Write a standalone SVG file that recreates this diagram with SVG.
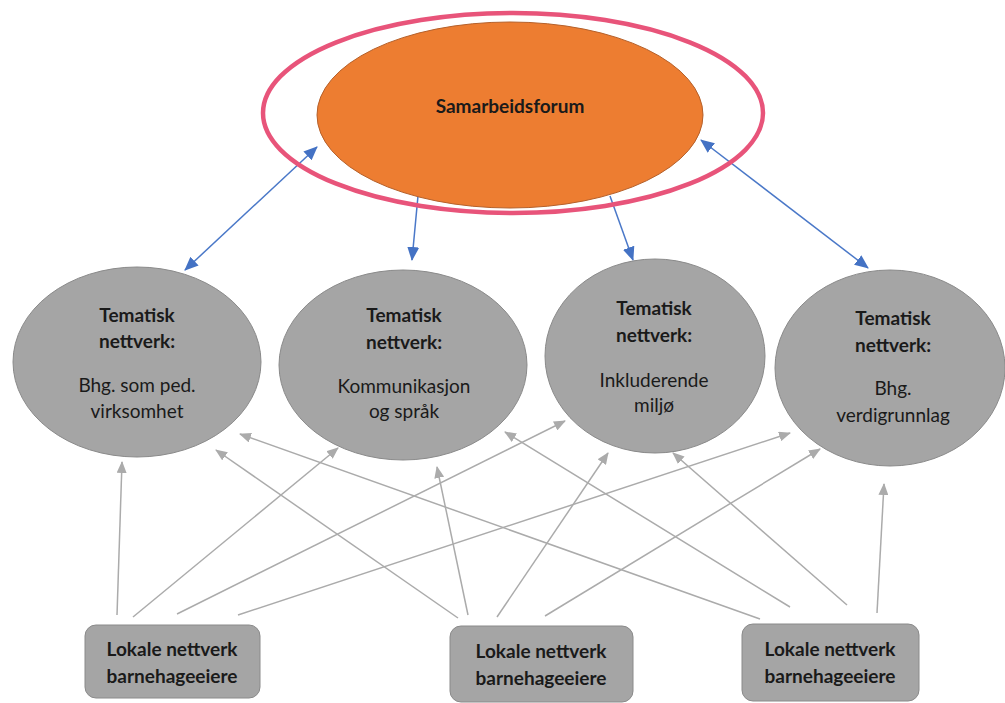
<svg xmlns="http://www.w3.org/2000/svg" width="1005" height="703" viewBox="0 0 1005 703">
<style>
  .t { font-family: Lato, "Open Sans", "Liberation Sans", sans-serif; font-size: 19px; fill: #1a1a1a; text-anchor: middle; }
  .b { font-weight: bold; }
  .gl { stroke: #ABABAB; stroke-width: 1.5; fill: none; marker-end: url(#ga); }
  .bl { stroke: #4A78C8; stroke-width: 1.5; fill: none; }
  .node { fill: #A5A5A5; stroke: #8A8A8A; stroke-width: 1; }
</style>
<defs>
  <marker id="ga" markerUnits="userSpaceOnUse" markerWidth="12" markerHeight="10" refX="11" refY="5" orient="auto">
    <path d="M0,0 L12,5 L0,10 z" fill="#ABABAB"/>
  </marker>
  <marker id="ba" markerUnits="userSpaceOnUse" markerWidth="14" markerHeight="12" refX="13" refY="6" orient="auto-start-reverse">
    <path d="M0,0 L14,6 L0,12 z" fill="#4472C4"/>
  </marker>
</defs>
<rect width="1005" height="703" fill="#FFFFFF"/>
<g id="connectors">
  <line class="gl" x1="117" y1="615" x2="122" y2="462"/>
  <line class="gl" x1="133" y1="617" x2="338" y2="448"/>
  <line class="gl" x1="177" y1="614" x2="565" y2="421"/>
  <line class="gl" x1="238" y1="615" x2="790" y2="433"/>
  <line class="gl" x1="458" y1="618" x2="216" y2="450"/>
  <line class="gl" x1="468" y1="615" x2="437" y2="467"/>
  <line class="gl" x1="497" y1="617" x2="608" y2="453"/>
  <line class="gl" x1="545" y1="616" x2="820" y2="449"/>
  <line class="gl" x1="760" y1="619" x2="240" y2="434"/>
  <line class="gl" x1="790" y1="607" x2="505" y2="432"/>
  <line class="gl" x1="847" y1="605" x2="673" y2="453"/>
  <line class="gl" x1="877" y1="613" x2="884" y2="484"/>
  <line class="bl" x1="185" y1="270" x2="317" y2="147" marker-start="url(#ba)" marker-end="url(#ba)"/>
  <line class="bl" x1="418" y1="196" x2="412" y2="260" marker-end="url(#ba)"/>
  <line class="bl" x1="610" y1="196" x2="633" y2="260" marker-end="url(#ba)"/>
  <line class="bl" x1="701" y1="140" x2="868" y2="268" marker-start="url(#ba)" marker-end="url(#ba)"/>
</g>
<g id="samarbeidsforum">
  <ellipse cx="510" cy="115" rx="193" ry="93" fill="#ED7D31" stroke="#B5602A" stroke-width="1"/>
  <ellipse cx="513" cy="113" rx="250" ry="100" fill="none" stroke="#E8547A" stroke-width="4.5"/>
  <text class="t b" x="510" y="113">Samarbeidsforum</text>
</g>
<g id="tema1">
  <ellipse class="node" cx="137" cy="362" rx="124" ry="95"/>
  <text class="t b" x="137" y="322">Tematisk</text>
  <text class="t b" x="137" y="348">nettverk:</text>
  <text class="t" x="137" y="392">Bhg. som ped.</text>
  <text class="t" x="137" y="418">virksomhet</text>
</g>
<g id="tema2">
  <ellipse class="node" cx="403" cy="365" rx="124" ry="95"/>
  <text class="t b" x="404" y="322">Tematisk</text>
  <text class="t b" x="404" y="349">nettverk:</text>
  <text class="t" x="404" y="393">Kommunikasjon</text>
  <text class="t" x="404" y="418">og språk</text>
</g>
<g id="tema3">
  <ellipse class="node" cx="655" cy="356" rx="110" ry="97"/>
  <text class="t b" x="654" y="315">Tematisk</text>
  <text class="t b" x="654" y="342">nettverk:</text>
  <text class="t" x="654" y="387">Inkluderende</text>
  <text class="t" x="654" y="412">miljø</text>
</g>
<g id="tema4">
  <ellipse class="node" cx="890" cy="368" rx="115" ry="98"/>
  <text class="t b" x="893" y="325">Tematisk</text>
  <text class="t b" x="893" y="352">nettverk:</text>
  <text class="t" x="893" y="395">Bhg.</text>
  <text class="t" x="893" y="422">verdigrunnlag</text>
</g>
<g id="lokal1">
  <rect class="node" x="85" y="625" width="175" height="73" rx="11" stroke="#7F7F7F"/>
  <text class="t b" x="172" y="656">Lokale nettverk</text>
  <text class="t b" x="172" y="683">barnehageeiere</text>
</g>
<g id="lokal2">
  <rect class="node" x="450" y="626" width="183" height="76" rx="11" stroke="#7F7F7F"/>
  <text class="t b" x="541" y="658">Lokale nettverk</text>
  <text class="t b" x="541" y="685">barnehageeiere</text>
</g>
<g id="lokal3">
  <rect class="node" x="742" y="624" width="177" height="77" rx="11" stroke="#7F7F7F"/>
  <text class="t b" x="830" y="656">Lokale nettverk</text>
  <text class="t b" x="830" y="683">barnehageeiere</text>
</g>
</svg>
